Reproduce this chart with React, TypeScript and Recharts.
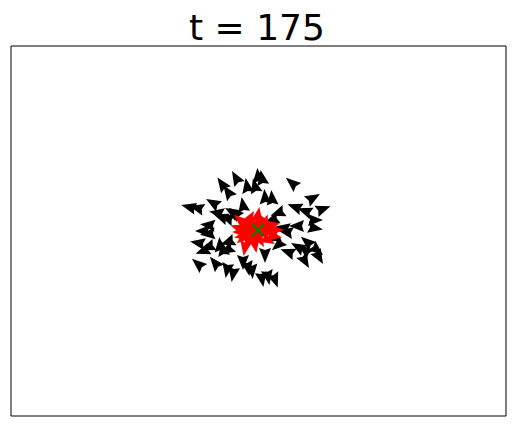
import { ReferenceArea, Scatter, ScatterChart, XAxis, YAxis } from "recharts";

// positions are in plot units (x 0..495 left->right, y 0..370 bottom->top), angle in degrees ccw
const blackX = [225, 247, 251, 236, 244, 211, 217, 281, 254, 261, 232, 178, 186, 202, 206, 210, 216, 224, 197, 192, 197, 187, 197, 209, 212, 192, 187, 204, 216, 222, 232, 237, 241, 302, 284, 294, 312, 267, 261, 286, 304, 304, 272, 275, 254, 277, 287, 296, 294, 306, 308, 294, 251, 257, 264, 261, 267, 221, 217, 216];
const blackY = [238, 240, 238, 230, 230, 232, 224, 233, 219, 218, 211, 209, 208, 213, 203, 199, 198, 203, 191, 185, 182, 173, 169, 171, 167, 165, 152, 153, 146, 142, 154, 148, 145, 218, 209, 205, 207, 203, 196, 190, 196, 188, 188, 184, 161, 164, 169, 174, 166, 166, 159, 155, 137, 139, 136, 178, 171, 204, 174, 166];
const blackAngle = [120, 95, 100, 100, 105, 125, 125, 140, 95, 95, 100, 165, 165, 150, 170, 160, 160, 140, 175, 180, 185, 170, 200, 95, 100, 200, 140, 130, 260, 260, 270, 280, 275, 30, 160, 160, 20, 200, 200, 180, 0, 350, 170, 170, 270, 160, 150, 140, 140, 320, 300, 300, 280, 280, 290, 200, 220, 150, 200, 210];

const redX = [239, 247, 251, 234, 229, 241, 254, 259, 261, 237, 244, 249, 232, 227, 245, 239, 251, 257, 242, 234, 265, 229, 236, 246, 254, 240, 248, 231, 258, 263];
const redY = [198, 201, 196, 191, 184, 181, 188, 184, 191, 174, 171, 176, 178, 188, 188, 188, 182, 176, 194, 168, 186, 196, 184, 180, 194, 192, 196, 180, 190, 180];
const redAngle = [60, 80, 120, 200, 180, 300, 20, 340, 10, 250, 280, 300, 220, 160, 45, 90, 0, 330, 100, 260, 0, 140, 230, 270, 70, 130, 110, 190, 30, 350];

const centerX = [247];
const centerY = [186];

const black = blackX.map((x, i) => ({ x, y: blackY[i], angle: blackAngle[i] }));
const red = redX.map((x, i) => ({ x, y: redY[i], angle: redAngle[i] }));
const center = centerX.map((x, i) => ({ x, y: centerY[i] }));

const makeArrow = (color: string) => (props: any) => {
  const { cx, cy, payload } = props;
  return (
    <polygon
      points="8,0 -7,-6 -5,0 -7,6"
      transform={`translate(${cx},${cy}) rotate(${-payload.angle})`}
      fill={color}
    />
  );
};

const Cross = (props: any) => {
  const { cx, cy } = props;
  const r = 6;
  return (
    <g stroke="#008000" strokeWidth={2}>
      <line x1={cx - r} y1={cy - r} x2={cx + r} y2={cy + r} />
      <line x1={cx - r} y1={cy + r} x2={cx + r} y2={cy - r} />
    </g>
  );
};

export default function App() {
  return (
    <div style={{ position: "absolute", left: 0, top: 0, width: 515, height: 426, background: "#fff" }}>
      <svg width={515} height={60} style={{ position: "absolute", left: 0, top: 0 }}>
        <text x={257} y={40} textAnchor="middle" fontFamily="DejaVu Sans" fontSize={36} fill="#000">
          t = 175
        </text>
      </svg>
      <div style={{ position: "absolute", left: 0, top: 0 }}>
        <ScatterChart width={515} height={426} margin={{ top: 46, left: 11, right: 9, bottom: 10 }}>
          <XAxis type="number" dataKey="x" domain={[0, 495]} hide />
          <YAxis type="number" dataKey="y" domain={[0, 370]} hide />
          <ReferenceArea x1={0} x2={495} y1={0} y2={370} fill="none" stroke="#000" strokeWidth={1} fillOpacity={0} ifOverflow="visible" />
          <Scatter data={black} shape={makeArrow("#000")} isAnimationActive={false} />
          <Scatter data={red} shape={makeArrow("#ff0000")} isAnimationActive={false} />
          <Scatter data={center} shape={Cross} isAnimationActive={false} />
        </ScatterChart>
      </div>
    </div>
  );
}
